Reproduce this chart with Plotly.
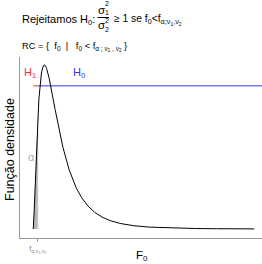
import math
import plotly.graph_objects as go

# distribution parameters
nu1 = 5
nu2 = 10
alpha = 0.05
f_alpha = 0.2112      # lower critical value f_{alpha; nu1, nu2}
h_level = 0.6         # height of hypothesis line
x_max = 10

title_pre = "Rejeitamos H<sub>0</sub>:"
title_post = "≥ 1 se f<sub>0</sub><f<sub>α;ν<sub>1</sub>,ν<sub>2</sub></sub>"
rc_text = "RC = {  f<sub>0</sub>  |   f<sub>0</sub> < f<sub>α ; ν<sub>1</sub> , ν<sub>2</sub></sub> }"
tick_label = "f<sub>α;ν<sub>1</sub>,ν<sub>2</sub></sub>"
x_title = "F<sub>0</sub>"
y_title = "Função densidade"


def fpdf(x, d1, d2):
    if x <= 0:
        return 0.0
    lb = math.lgamma(d1 / 2) + math.lgamma(d2 / 2) - math.lgamma((d1 + d2) / 2)
    lv = (d1 / 2) * math.log(d1 / d2) + (d1 / 2 - 1) * math.log(x) \
        - ((d1 + d2) / 2) * math.log(1 + d1 * x / d2) - lb
    return math.exp(lv)


xs = [i * 0.01 for i in range(0, int(x_max * 100) + 1)]
ys = [fpdf(v, nu1, nu2) for v in xs]

xs_fill = [v for v in xs if v <= f_alpha] + [f_alpha]
ys_fill = [fpdf(v, nu1, nu2) for v in xs_fill]
poly_x = xs_fill + [f_alpha, 0]
poly_y = ys_fill + [0, 0]

fig = go.Figure()
fig.add_trace(go.Scatter(x=poly_x, y=poly_y, fill="toself", mode="none",
                         fillcolor="#b8b8b8", hoverinfo="skip"))
fig.add_trace(go.Scatter(x=[f_alpha, f_alpha], y=[0, fpdf(f_alpha, nu1, nu2)],
                         mode="lines", line=dict(color="#d8d8d8", width=1, dash="dash"),
                         hoverinfo="skip"))
fig.add_trace(go.Scatter(x=[0, f_alpha], y=[h_level, h_level], mode="lines",
                         line=dict(color="#ff7070", width=1.5), hoverinfo="skip"))
fig.add_trace(go.Scatter(x=[f_alpha, 10.35], y=[h_level, h_level], mode="lines",
                         line=dict(color="#7474ff", width=1.5), hoverinfo="skip"))
fig.add_trace(go.Scatter(x=xs, y=ys, mode="lines",
                         line=dict(color="#000000", width=1), hoverinfo="skip"))

font_family = "Liberation Sans, Arial, sans-serif"


def txt(text, x, y, size, color="#000", anchor="center", angle=0):
    return dict(text=text, x=x, y=y, xanchor=anchor, yanchor="middle",
                showarrow=False, textangle=angle,
                font=dict(size=size, color=color))


ann = [
    txt(title_pre, 20, 19.5, 11, anchor="left"),
    # stacked fraction sigma_1^2 / sigma_2^2
    txt("σ", 101.5, 10, 11.5),
    txt("2", 106.5, 4, 7),
    txt("1", 106.5, 13, 7),
    txt("σ", 101.5, 25, 11.5),
    txt("2", 106.5, 20.5, 7),
    txt("2", 106.5, 29.5, 7),
    txt(title_post, 112, 19.5, 10.3, anchor="left"),
    txt(rc_text, 20, 47, 9.3, anchor="left"),
    txt("H<sub>1</sub>", 30, 73, 11, "#ff3030"),
    txt("H<sub>0</sub>", 79, 73, 11, "#3030ff"),
    txt("α", 31, 157, 11, "#b0b0b0"),
    txt(x_title, 142, 256, 11.5),
    txt(y_title, 10, 150, 12.5, angle=-90),
]

# reference pixel coords -> paper coords (plot area: x 20..262, y 57..238)
for a in ann:
    a["xref"] = "paper"
    a["yref"] = "paper"
    a["x"] = (a["x"] - 20) / 242
    a["y"] = (238 - a["y"]) / 181

shapes = [dict(type="line", xref="paper", yref="paper",
               x0=(97.5 - 20) / 242, x1=(109 - 20) / 242,
               y0=(238 - 17.5) / 181, y1=(238 - 17.5) / 181,
               line=dict(color="#000", width=1))]

W, H = 262, 264
fig.update_layout(
    width=W, height=H,
    margin=dict(l=20, r=0, t=57, b=26, pad=0),
    paper_bgcolor="white", plot_bgcolor="white",
    showlegend=False,
    font=dict(family=font_family),
    annotations=ann,
    shapes=shapes,
    xaxis=dict(range=[-0.6, 10.35], showgrid=False, zeroline=False,
               showline=True, linecolor="#999999", linewidth=1,
               tickmode="array", tickvals=[f_alpha], ticktext=[tick_label],
               ticks="outside", ticklen=3, tickcolor="#999999",
               tickfont=dict(size=7.5, color="#888888")),
    yaxis=dict(range=[-0.0377, 0.7206], showgrid=False, zeroline=False,
               showline=True, linecolor="#999999", linewidth=1,
               showticklabels=False, ticks=""),
)
fig.write_html("out.html", config={"displayModeBar": False},
               post_script="document.body.style.margin='0';document.body.style.padding='0';")
